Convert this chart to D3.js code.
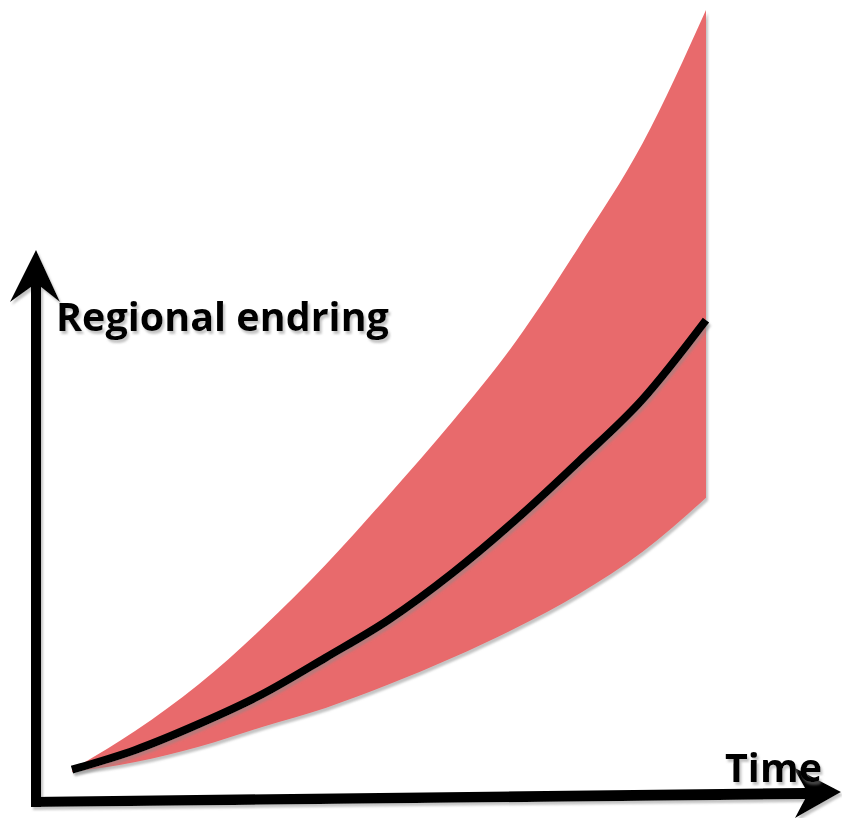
<!DOCTYPE html>
<html>
<head>
<meta charset="utf-8">
<script src="https://cdn.jsdelivr.net/npm/d3@7"></script>
<style>
  body { margin: 0; background: #fff; }
  svg { display: block; }
  .label { font-family: "Open Sans", sans-serif; font-weight: bold; fill: #000; }
</style>
</head>
<body>
<div id="chart"></div>
<script>
// values (arbitrary units)
var time   = [0, 1, 2, 3, 4, 5, 6, 7, 8, 9, 10];
var upper  = [0.3, 5.4, 11.5, 18.9, 27.2, 36.4, 46.0, 56.5, 69.0, 82.5, 100];
var middle = [0.3, 2.9, 6.3, 10.2, 15.0, 20.0, 26.1, 33.1, 40.8, 48.9, 59.3];
var lower  = [0, 1.3, 3.3, 5.9, 8.4, 11.5, 15.0, 18.9, 23.4, 28.9, 36.0];

var yLabel = "Regional endring",
    xLabel = "Time";

var width = 842, height = 818;

var svg = d3.select("#chart")
  .append("svg")
    .attr("width", width)
    .attr("height", height);

var defs = svg.append("defs");
var f = defs.append("filter").attr("id", "shadow")
    .attr("x", "-10%").attr("y", "-10%").attr("width", "130%").attr("height", "130%");
f.append("feDropShadow")
    .attr("dx", 2).attr("dy", 3).attr("stdDeviation", 0.8)
    .attr("flood-color", "#888").attr("flood-opacity", 0.5);

var x = d3.scaleLinear()
    .domain([0, 10])
    .range([72, 706]);

var y = d3.scaleLinear()
    .domain([0, 100])
    .range([772, 10]);

var data = time.map(function(t, i) {
  return {t: t, hi: upper[i], mid: middle[i], lo: lower[i]};
});

// band
var area = d3.area()
    .x(function(d) { return x(d.t); })
    .y0(function(d) { return y(d.lo); })
    .y1(function(d) { return y(d.hi); })
    .curve(d3.curveMonotoneX);

svg.append("path")
    .datum(data)
    .attr("d", area)
    .attr("fill", "#e86a6c")
    .attr("filter", "url(#shadow)");

// middle line
var line = d3.line()
    .x(function(d) { return x(d.t); })
    .y(function(d) { return y(d.mid); })
    .curve(d3.curveMonotoneX);

svg.append("path")
    .datum(data)
    .attr("d", line)
    .attr("fill", "none")
    .attr("stroke", "#000")
    .attr("stroke-width", 8)
    .attr("stroke-linecap", "butt")
    .attr("filter", "url(#shadow)");

// axes (arrows)
var axes = svg.append("g").attr("filter", "url(#shadow)");

// vertical arrow
axes.append("path")
    .attr("d", "M36,250 L60,302 L41,287 L41,807 L31,807 L31,287 L10,302 Z")
    .attr("fill", "#000");

// horizontal arrow
axes.append("path")
    .attr("d", "M841,792 L795,818 L805,799 L31,807 L31,797 L805,788 L793,767 Z")
    .attr("fill", "#000");

// labels
svg.append("text")
    .attr("class", "label")
    .attr("x", 56)
    .attr("y", 331)
    .attr("font-size", 39.5)
    .attr("filter", "url(#shadow)")
    .text(yLabel);

svg.append("text")
    .attr("class", "label")
    .attr("x", 725)
    .attr("y", 782)
    .attr("font-size", 39.5)
    .attr("filter", "url(#shadow)")
    .text(xLabel);
</script>
</body>
</html>
